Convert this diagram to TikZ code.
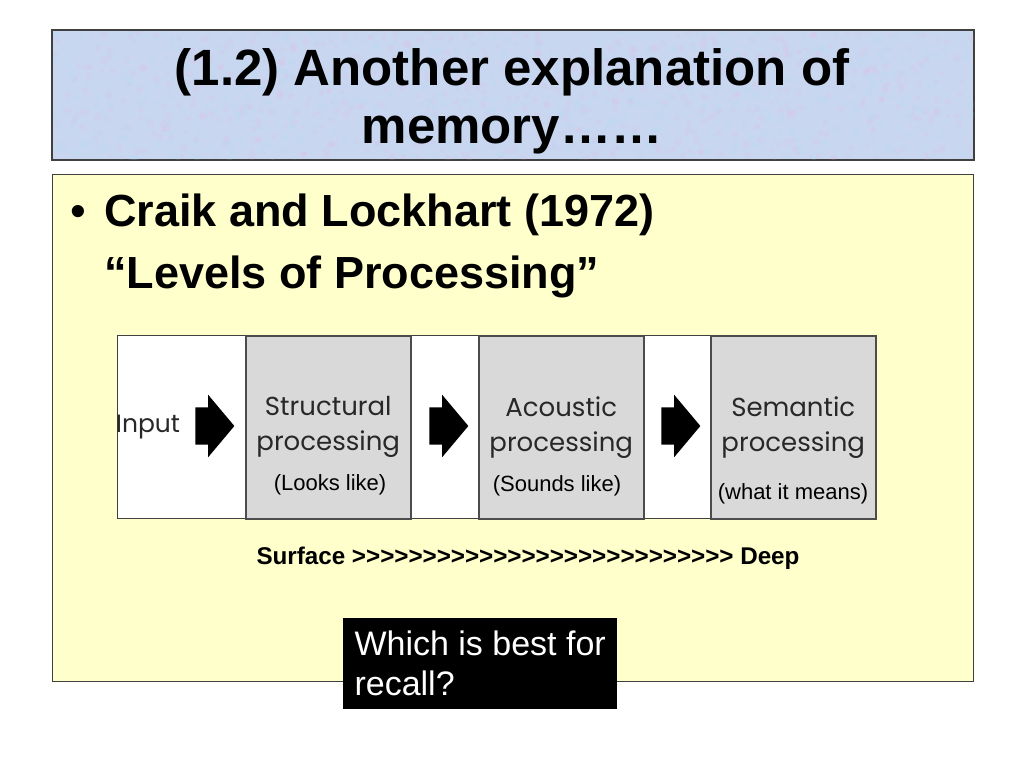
\documentclass[tikz,border=0pt]{standalone}
\usepackage{fontspec}
\setmainfont[Ligatures=TeXOff]{Liberation Sans}
\newfontfamily\geofont{Poppins}
\usetikzlibrary{shapes.arrows,positioning}
\definecolor{titlebg}{RGB}{200,214,240}
\definecolor{notepad}{RGB}{255,255,204}
\definecolor{stagegray}{RGB}{217,217,217}
\definecolor{inkgray}{RGB}{40,40,40}

\begin{document}
\begin{tikzpicture}[
    x=1pt, y=-1pt,
    panel/.style={rectangle, draw=black!75, line width=1.2pt, anchor=north west, inner sep=0pt},
    stage/.style={rectangle, draw=black!70, line width=1.5pt, fill=stagegray, anchor=north west, minimum width=165pt, minimum height=183pt, inner sep=0pt, font=\geofont\fontsize{26}{35}\selectfont, text=inkgray, align=center},
    blockarrow/.style={single arrow, fill=black, minimum height=39pt, inner xsep=0pt, inner ysep=18.5pt, single arrow head extend=12.5pt, single arrow tip angle=100},
    txt/.style={inner sep=0pt},
    hint/.style={inner sep=0pt, font=\fontsize{22}{26}\selectfont}
]
    \useasboundingbox (0,0) rectangle (1024,768);

    % Title bar with a mottled paper look
    \node[panel, fill=titlebg, minimum width=921pt, minimum height=129pt] (titlebar) at (52,30) {};
    \begin{scope}
        \clip (titlebar.south west) rectangle (titlebar.north east);
        \pgfmathsetseed{7}
        \foreach \k in {1,...,700} {
            \fill[magenta!35, opacity=0.10] (52+921*rnd,30+129*rnd) circle (1.5+2.5*rnd);
            \fill[cyan!35, opacity=0.10] (52+921*rnd,30+129*rnd) circle (1.5+2.5*rnd);
        }
    \end{scope}
    \draw[black!75, line width=1.2pt] (titlebar.south west) rectangle (titlebar.north east);
    \node[txt, font=\bfseries\fontsize{51}{58}\selectfont, align=center] (title) at (512,101) {(1.2) Another explanation of\\memory……};

    % Body panel
    \node[panel, fill=notepad, minimum width=921pt, minimum height=507pt] (body) at (52,174) {};
    \node[txt, font=\fontsize{45}{54}\selectfont, anchor=base] (bullet) at (78,226) {•};
    \node[txt, font=\bfseries\fontsize{45}{54}\selectfont, anchor=base west] (craik) at (104,226) {Craik and Lockhart (1972)};
    \node[txt, font=\bfseries\fontsize{45}{54}\selectfont, anchor=base west] (levels) at (104,288) {“Levels of Processing”};

    % Processing stages
    \node[panel, fill=white, line width=1pt, minimum width=759pt, minimum height=183pt] (frame) at (117,335) {};
    \node[txt, font=\geofont\fontsize{25}{35}\selectfont, text=inkgray] (input) at (148,427) {Input};
    \node[stage] (struct) at (245,335) {Structural\\processing};
    \node[stage] (acoust) at (478,335) {Acoustic\\processing};
    \node[stage] (seman) at (710,335) {Semantic\\processing};

    \node[blockarrow] (ar1) at (207,426) {};
    \node[blockarrow] (ar2) at (441,426) {};
    \node[blockarrow] (ar3) at (673,426) {};

    \node[hint] (looks) at (330,485) {(Looks like)};
    \node[hint] (sounds) at (557,486) {(Sounds like)};
    \node[hint] (means) at (793,494) {(what it means)};

    % Depth scale
    \node[txt, font=\bfseries\fontsize{24.2}{29}\selectfont] (depth) at (528,558) {Surface >>>>>>>>>>>>>>>>>>>>>>>>>>> Deep};

    % Question box
    \node[fill=black, text=white, anchor=north west, minimum width=274pt, minimum height=91pt, align=left, font=\fontsize{34}{40}\selectfont] (recall) at (343,618) {Which is best for\\recall?};
\end{tikzpicture}
\end{document}
